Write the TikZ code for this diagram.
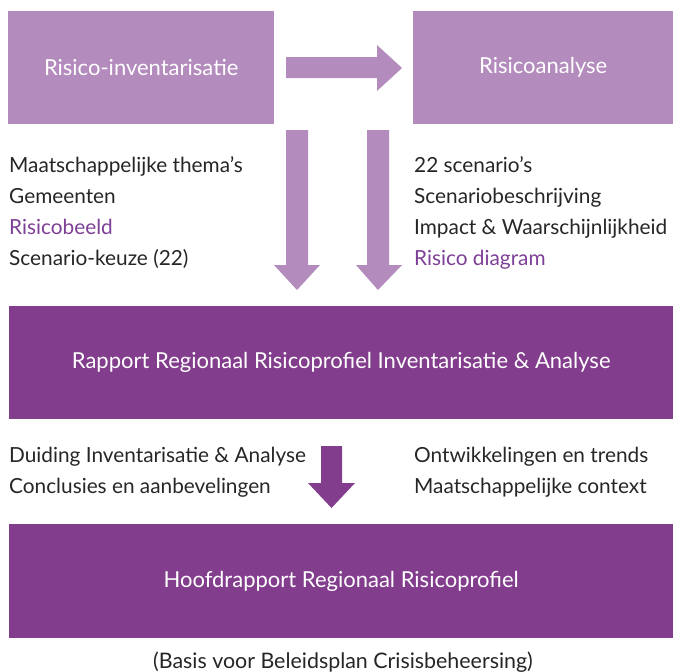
\documentclass[tikz,border=0pt]{standalone}
\usepackage{fontspec}
\setmainfont{Lato}
\definecolor{lightp}{HTML}{B38BBD}
\definecolor{darkp}{HTML}{833D8D}
\definecolor{textp}{HTML}{7E3F96}
\definecolor{textk}{HTML}{262626}
\begin{document}
\begin{tikzpicture}[x=1pt,y=-1pt,
  box/.style={anchor=north west, inner sep=0pt, text=white, font=\fontsize{22}{26}\selectfont},
  lbox/.style={box, fill=lightp},
  dbox/.style={box, fill=darkp},
  item/.style={anchor=base west, inner sep=0pt, text=textk, font=\fontsize{20.8}{25}\selectfont},
  hitem/.style={item, text=textp},
  caption/.style={anchor=base, inner sep=0pt, text=textk, font=\fontsize{21.4}{25}\selectfont},
  lightarrow/.style={fill=lightp},
  darkarrow/.style={fill=darkp}]
\useasboundingbox (0,0) rectangle (673,672);

% boxes
\node[lbox, minimum width=266pt, minimum height=113pt] (inv) at (8,11) {Risico-inventarisatie};
\node[lbox, minimum width=260pt, minimum height=113pt] (ana) at (413,11) {Risicoanalyse};
\node[dbox, minimum width=664pt, minimum height=113pt] (rap) at (9,306) {Rapport Regionaal Risicoprofiel Inventarisatie \& Analyse};
\node[dbox, minimum width=664pt, minimum height=114pt] (hoofd) at (9,524) {Hoofdrapport Regionaal Risicoprofiel};

% left list
\node[item] (l1) at (9,172) {Maatschappelijke thema’s};
\node[item] (l2) at (9,203) {Gemeenten};
\node[hitem] (l3) at (9,234) {Risicobeeld};
\node[item] (l4) at (9,265) {Scenario-keuze (22)};

% right list
\node[item] (r1) at (414,172) {22 scenario’s};
\node[item] (r2) at (414,203) {Scenariobeschrijving};
\node[item] (r3) at (414,234) {Impact \& Waarschijnlijkheid};
\node[hitem] (r4) at (414,265) {Risico diagram};

% middle lists
\node[item] (m1) at (9,462) {Duiding Inventarisatie \& Analyse};
\node[item] (m2) at (9,493) {Conclusies en aanbevelingen};
\node[item] (n1) at (414,462) {Ontwikkelingen en trends};
\node[item] (n2) at (414,493) {Maatschappelijke context};

% caption
\node[caption] (cap) at (343,668) {(Basis voor Beleidsplan Crisisbeheersing)};

% block arrows
\fill[lightarrow] (286,57) -- (377,57) -- (377,45) -- (402,68) -- (377,91) -- (377,78) -- (286,78) -- cycle;
\fill[lightarrow] (286,130) -- (308,130) -- (308,265) -- (320,265) -- (297,290) -- (274,265) -- (286,265) -- cycle;
\fill[lightarrow] (367,130) -- (389,130) -- (389,265) -- (402,265) -- (378,290) -- (356,265) -- (367,265) -- cycle;
\fill[darkarrow] (321,446) -- (342,446) -- (342,483) -- (355,483) -- (331.5,508) -- (308,483) -- (321,483) -- cycle;
\end{tikzpicture}
\end{document}
